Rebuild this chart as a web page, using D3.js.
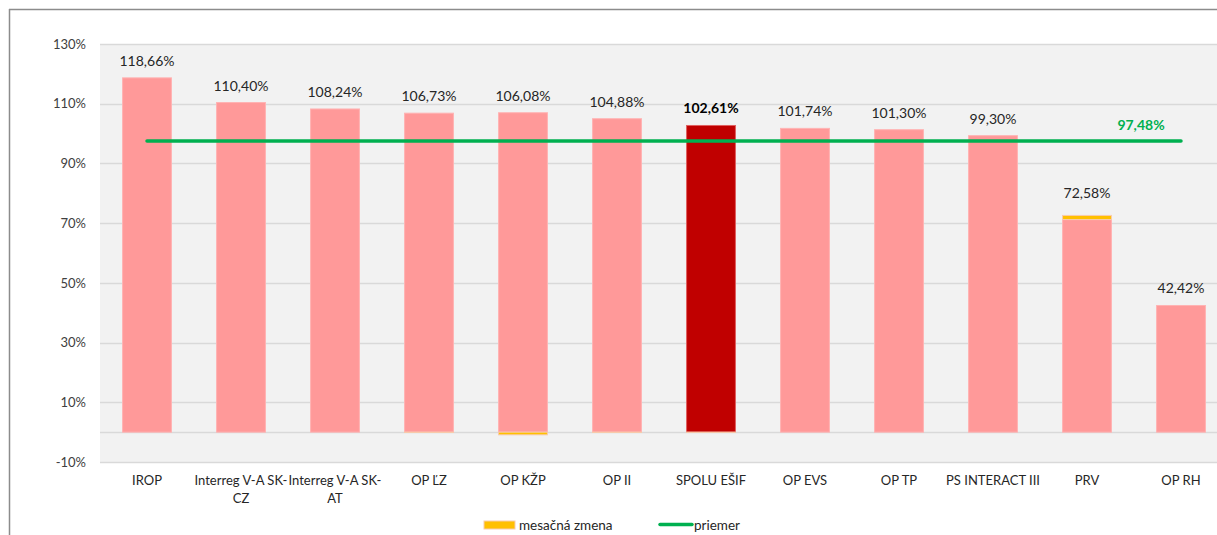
<!DOCTYPE html>
<html>
<head>
<meta charset="utf-8">
<script src="https://cdn.jsdelivr.net/npm/d3@7"></script>
<style>
  html, body { margin: 0; padding: 0; background: #ffffff; }
  svg { display: block; }
  text { font-family: Lato, "Open Sans", "Liberation Sans", sans-serif; }
</style>
</head>
<body>
<svg id="chart" width="1217" height="535"></svg>
<script>
// ---- data ----
const categories = ["IROP", "Interreg V-A SK-CZ", "Interreg V-A SK-AT", "OP ĽZ", "OP KŽP", "OP II",
  "SPOLU EŠIF", "OP EVS", "OP TP", "PS INTERACT III", "PRV", "OP RH"];
const baseValues = [118.66, 110.40, 108.24, 106.83, 106.98, 104.98, 102.71, 101.74, 101.30, 99.30, 71.20, 42.42];
const monthlyChange = [0, 0, 0, -0.1, -0.9, -0.1, -0.1, 0, 0, 0, 1.38, 0];
const valueLabels = ["118,66%", "110,40%", "108,24%", "106,73%", "106,08%", "104,88%", "102,61%",
  "101,74%", "101,30%", "99,30%", "72,58%", "42,42%"];
const averageValue = 97.48;
const averageLabel = "97,48%";
const yTicks = [-10, 10, 30, 50, 70, 90, 110, 130];
const legendLabels = ["mesačná zmena", "priemer"];
const highlight = "SPOLU EŠIF";

// ---- layout ----
const svg = d3.select("#chart");
const plot = { left: 100, right: 1228, top: 44, bottom: 462 };

const x = d3.scaleBand().domain(categories).range([plot.left, plot.right]).paddingInner(0.48).paddingOuter(0.24);
const y = d3.scaleLinear().domain([-10, 130]).range([plot.bottom, plot.top]);

// frame
svg.append("line").attr("x1", 9).attr("x2", 1217).attr("y1", 9.5).attr("y2", 9.5)
  .attr("stroke", "#8c8c8c").attr("stroke-width", 1.5);
svg.append("line").attr("x1", 9.5).attr("x2", 9.5).attr("y1", 9).attr("y2", 535)
  .attr("stroke", "#8c8c8c").attr("stroke-width", 1.5);

// plot background
svg.append("rect").attr("x", plot.left).attr("y", plot.top)
  .attr("width", plot.right - plot.left).attr("height", plot.bottom - plot.top)
  .attr("fill", "#f2f2f2");

// grid
svg.append("g").selectAll("line").data(yTicks).join("line")
  .attr("x1", plot.left).attr("x2", plot.right)
  .attr("y1", d => Math.round(y(d)) + 0.5).attr("y2", d => Math.round(y(d)) + 0.5)
  .attr("stroke", "#d9d9d9").attr("stroke-width", 1.5);

// y axis
const yAxis = d3.axisLeft(y).tickValues(yTicks).tickFormat(d => d + "%").tickSize(0).tickPadding(14);
const gy = svg.append("g").attr("transform", `translate(${plot.left},0)`).call(yAxis);
gy.select(".domain").remove();
gy.selectAll("text").attr("font-size", 13).attr("fill", "#404040");

// zero line
svg.append("line").attr("x1", plot.left).attr("x2", plot.right)
  .attr("y1", Math.round(y(0)) + 0.5).attr("y2", Math.round(y(0)) + 0.5)
  .attr("stroke", "#d9d9d9").attr("stroke-width", 1.5);

// base bars
svg.append("g").selectAll("rect").data(categories).join("rect")
  .attr("x", d => x(d))
  .attr("width", x.bandwidth())
  .attr("y", (d, i) => y(baseValues[i]))
  .attr("height", (d, i) => y(0) - y(baseValues[i]))
  .attr("fill", d => d === highlight ? "#c00000" : "#ff9999")
  .attr("stroke", d => d === highlight ? "#e06060" : "#ffb3b3")
  .attr("stroke-width", 1);

// monthly change segments
svg.append("g").selectAll("rect").data(categories).join("rect")
  .attr("x", d => x(d))
  .attr("width", x.bandwidth())
  .attr("y", (d, i) => monthlyChange[i] >= 0 ? y(baseValues[i] + monthlyChange[i]) : y(0))
  .attr("height", (d, i) => Math.abs(y(0) - y(Math.abs(monthlyChange[i]))))
  .attr("fill", "#ffc000")
  .attr("stroke", "#f8cbad")
  .attr("stroke-width", 1)
  .attr("display", (d, i) => monthlyChange[i] === 0 ? "none" : null);

// value labels
svg.append("g").selectAll("text").data(categories).join("text")
  .attr("x", d => x(d) + x.bandwidth() / 2)
  .attr("y", (d, i) => y(Math.max(baseValues[i], baseValues[i] + monthlyChange[i])) - (monthlyChange[i] > 0 ? 17 : 12))
  .attr("text-anchor", "middle")
  .attr("font-size", 14)
  .attr("font-weight", d => d === highlight ? "bold" : "normal")
  .attr("fill", d => d === highlight ? "#000000" : "#262626")
  .text((d, i) => valueLabels[i]);

// average line
const avgLine = d3.line().x(d => x(d) + x.bandwidth() / 2).y(() => y(averageValue));
svg.append("path").datum([categories[0], categories[categories.length - 1]])
  .attr("d", avgLine).attr("fill", "none").attr("stroke", "#00b050")
  .attr("stroke-width", 3.5).attr("stroke-linecap", "round");
svg.append("text")
  .attr("x", x(categories[categories.length - 2]) + x.bandwidth() / 2 + 54)
  .attr("y", y(averageValue) - 11)
  .attr("text-anchor", "middle").attr("font-size", 14).attr("font-weight", "bold")
  .attr("fill", "#00b050").text(averageLabel);

// category labels with wrapping
const catG = svg.append("g");
categories.forEach(c => {
  const cx = x(c) + x.bandwidth() / 2;
  let lines = [c];
  const m = c.match(/^(Interreg V-A SK-)(.*)$/);
  if (m) lines = [m[1], m[2]];
  const t = catG.append("text").attr("x", cx).attr("y", 485)
    .attr("text-anchor", "middle").attr("font-size", 13).attr("fill", "#262626");
  lines.forEach((l, k) => t.append("tspan").attr("x", cx).attr("dy", k === 0 ? 0 : 18).text(l));
});

// legend
const lg = svg.append("g");
lg.append("rect").attr("x", 484).attr("y", 521).attr("width", 31).attr("height", 8)
  .attr("fill", "#ffc000").attr("stroke", "#f8cbad");
lg.append("text").attr("x", 519).attr("y", 530).attr("font-size", 13.5).attr("fill", "#262626").text(legendLabels[0]);
lg.append("line").attr("x1", 660).attr("x2", 692).attr("y1", 524.5).attr("y2", 524.5)
  .attr("stroke", "#00b050").attr("stroke-width", 3.5).attr("stroke-linecap", "round");
lg.append("text").attr("x", 694).attr("y", 530).attr("font-size", 13.5).attr("fill", "#262626").text(legendLabels[1]);
</script>
</body>
</html>
